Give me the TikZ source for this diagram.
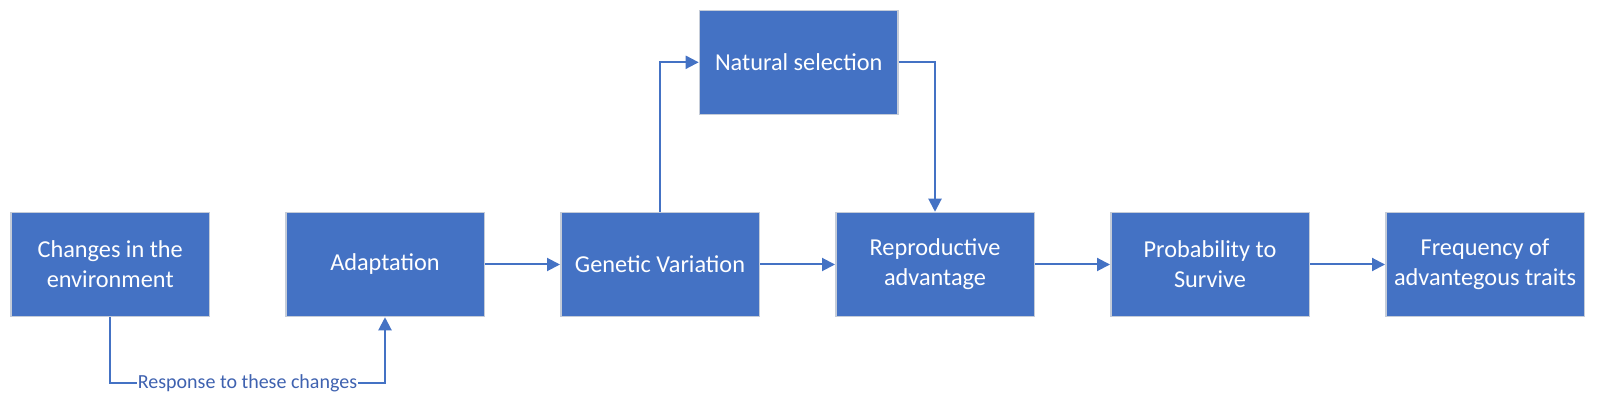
\documentclass[tikz,border=0pt]{standalone}
\usepackage{fontspec}
\setmainfont{Carlito}
\usetikzlibrary{arrows.meta}
\definecolor{boxblue}{HTML}{4472C4}
\definecolor{boxedge}{HTML}{C5CCD8}
\definecolor{lblblue}{HTML}{3F62B0}
\begin{document}
\begin{tikzpicture}[x=1pt,y=1pt,
  stepbox/.style={draw=boxedge, line width=1.5pt, fill=boxblue, text=white,
    minimum width=198.5pt, minimum height=104pt, inner sep=0pt, align=center,
    font=\fontsize{24.3}{30}\selectfont},
  conn/.style={draw=boxblue, line width=2pt, -{Triangle[length=13pt,width=13pt]}},
  lbl/.style={fill=white, inner sep=1pt, text=lblblue, font=\fontsize{20}{24}\selectfont}
]
\useasboundingbox (0,0) rectangle (1597,415);
\node[stepbox] (chg) at (110.2,150.5) {Changes in the\\environment};
\node[stepbox] (ada) at (385,150.5) {Adaptation};
\node[stepbox] (gen) at (660,150.5) {Genetic Variation};
\node[stepbox] (rep) at (935,150.5) {Reproductive\\advantage};
\node[stepbox] (pro) at (1210,150.5) {Probability to\\Survive};
\node[stepbox] (fre) at (1485,150.5) {Frequency of\\advantegous traits};
\node[stepbox] (nat) at (798.7,352.7) {Natural selection};

\draw[conn] (chg.south) |- (247.5,31.7) -| (ada.south);
\node[lbl] (rsp) at (247.5,31.7) {Response to these changes};
\draw[conn] (ada) -- (gen);
\draw[conn] (gen) -- (rep);
\draw[conn] (rep) -- (pro);
\draw[conn] (pro) -- (fre);
\draw[conn] (gen.north) |- (nat.west);
\draw[conn] (nat.east) -| (rep.north);
\end{tikzpicture}
\end{document}
